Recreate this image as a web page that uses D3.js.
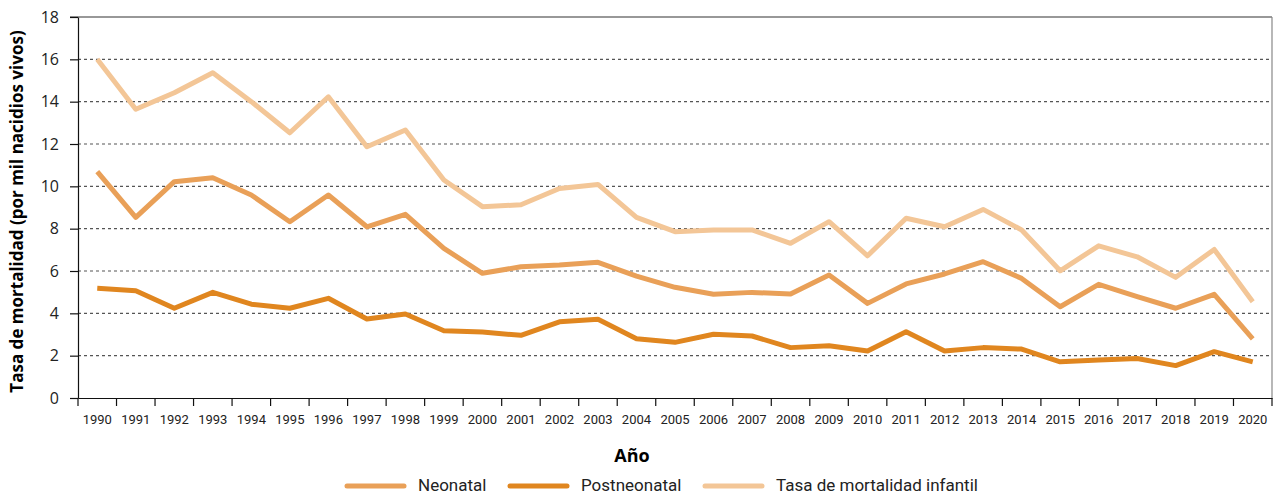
<!DOCTYPE html>
<html>
<head>
<meta charset="utf-8">
<script src="https://cdn.jsdelivr.net/npm/d3@7"></script>
<style>
  body { margin: 0; background: #fff; }
  svg { display: block; }
  .tick text { fill: #222; }
</style>
</head>
<body>
<div id="chart"></div>
<script>
const years = d3.range(1990, 2021).map(String)

const infantil = [16.0, 13.64, 14.42, 15.37, 14.0, 12.53, 14.23, 11.87, 12.66, 10.3, 9.04,
  9.13, 9.9, 10.09, 8.53, 7.86, 7.94, 7.94, 7.31, 8.33, 6.72,
  8.49, 8.09, 8.91, 7.94, 6.01, 7.19, 6.67, 5.7, 7.02, 4.55]

const neonatal = [10.69, 8.53, 10.22, 10.41, 9.59, 8.33, 9.59, 8.09, 8.68, 7.07, 5.89,
  6.2, 6.28, 6.41, 5.76, 5.23, 4.9, 4.99, 4.91, 5.81, 4.47,
  5.39, 5.86, 6.44, 5.65, 4.31, 5.37, 4.79, 4.24, 4.9, 2.79]

const postneonatal = [5.18, 5.07, 4.24, 4.99, 4.43, 4.24, 4.71, 3.73, 3.97, 3.18, 3.12,
  2.96, 3.6, 3.72, 2.8, 2.63, 3.01, 2.93, 2.38, 2.47, 2.22,
  3.13, 2.22, 2.38, 2.31, 1.71, 1.79, 1.87, 1.53, 2.19, 1.71]

const yTicks = [0, 2, 4, 6, 8, 10, 12, 14, 16, 18]

const series = [
  { name: 'Neonatal', values: neonatal, color: '#e9a058' },
  { name: 'Postneonatal', values: postneonatal, color: '#e0861f' },
  { name: 'Tasa de mortalidad infantil', values: infantil, color: '#f3c697' }
]

const width = 1278
const height = 495
const margin = { top: 17, right: 6, bottom: 97, left: 78 }

const svg = d3.select('#chart')
  .append('svg')
  .attr('width', width)
  .attr('height', height)

const x = d3.scaleBand()
  .domain(years)
  .range([margin.left, width - margin.right])

const y = d3.scaleLinear()
  .domain([0, 18])
  .range([height - margin.bottom, margin.top])

// gridlines
svg.append('g')
  .selectAll('line')
  .data(yTicks.filter(d => d > 0 && d < 18))
  .join('line')
  .attr('x1', margin.left)
  .attr('x2', width - margin.right)
  .attr('y1', d => y(d))
  .attr('y2', d => y(d))
  .attr('stroke', '#555')
  .attr('stroke-width', 1.2)
  .attr('stroke-dasharray', '3,3')

// frame top / right
svg.append('line')
  .attr('x1', margin.left - 8).attr('x2', width - margin.right)
  .attr('y1', y(18)).attr('y2', y(18))
  .attr('stroke', '#333').attr('stroke-width', 1.2)
svg.append('line')
  .attr('x1', width - margin.right).attr('x2', width - margin.right)
  .attr('y1', y(18)).attr('y2', y(0))
  .attr('stroke', '#888').attr('stroke-width', 1.2)

// y axis
const yAxis = svg.append('g')
  .attr('transform', `translate(${margin.left},0)`)
  .call(d3.axisLeft(y).tickValues(yTicks).tickSize(8).tickPadding(11).tickSizeOuter(0))
yAxis.selectAll('text')
  .attr('font-family', '"Open Sans", sans-serif')
  .attr('font-size', 16)
yAxis.selectAll('line, path').attr('stroke', '#111').attr('stroke-width', 1.2)

// x axis, ticks on band edges
const xAxis = svg.append('g')
  .attr('transform', `translate(0,${y(0)})`)
  .call(d3.axisBottom(x).tickSize(0).tickPadding(17).tickSizeOuter(0))
xAxis.selectAll('text')
  .attr('font-family', 'Roboto, sans-serif')
  .attr('font-size', 13)
xAxis.select('.domain').attr('stroke', '#111').attr('stroke-width', 1.2)
xAxis.selectAll('.edge')
  .data(years.concat(['end']))
  .join('line')
  .attr('class', 'edge')
  .attr('x1', d => d === 'end' ? x.range()[1] : x(d))
  .attr('x2', d => d === 'end' ? x.range()[1] : x(d))
  .attr('y1', 0)
  .attr('y2', 8)
  .attr('stroke', '#111')
  .attr('stroke-width', 1.2)

// lines
const line = d3.line()
  .x((d, i) => x(years[i]) + x.bandwidth() / 2)
  .y(d => y(d))

svg.append('g')
  .selectAll('path')
  .data([series[2], series[0], series[1]])
  .join('path')
  .attr('d', d => line(d.values))
  .attr('fill', 'none')
  .attr('stroke', d => d.color)
  .attr('stroke-width', 5)
  .attr('stroke-linejoin', 'round')

// axis titles
svg.append('text')
  .attr('transform', `translate(23,${(y(0) + y(18)) / 2 + 4}) rotate(-90)`)
  .attr('text-anchor', 'middle')
  .attr('font-family', '"Open Sans", sans-serif')
  .attr('font-weight', 'bold')
  .attr('font-size', 17)
  .text('Tasa de mortalidad (por mil nacidios vivos)')

svg.append('text')
  .attr('x', 632)
  .attr('y', 462)
  .attr('text-anchor', 'middle')
  .attr('font-family', '"Open Sans", sans-serif')
  .attr('font-weight', 'bold')
  .attr('font-size', 18)
  .text('Año')

// legend
const legendX = [347, 510, 705]
const legend = svg.append('g')
  .selectAll('g')
  .data(series)
  .join('g')
  .attr('transform', (d, i) => `translate(${legendX[i]},486)`)

legend.append('line')
  .attr('x1', 0).attr('x2', 57)
  .attr('stroke', d => d.color)
  .attr('stroke-width', 5)
  .attr('stroke-linecap', 'round')

legend.append('text')
  .attr('x', 71)
  .attr('y', 5)
  .attr('font-family', 'Roboto, sans-serif')
  .attr('font-size', 17)
  .attr('fill', '#222')
  .text(d => d.name)
</script>
</body>
</html>
